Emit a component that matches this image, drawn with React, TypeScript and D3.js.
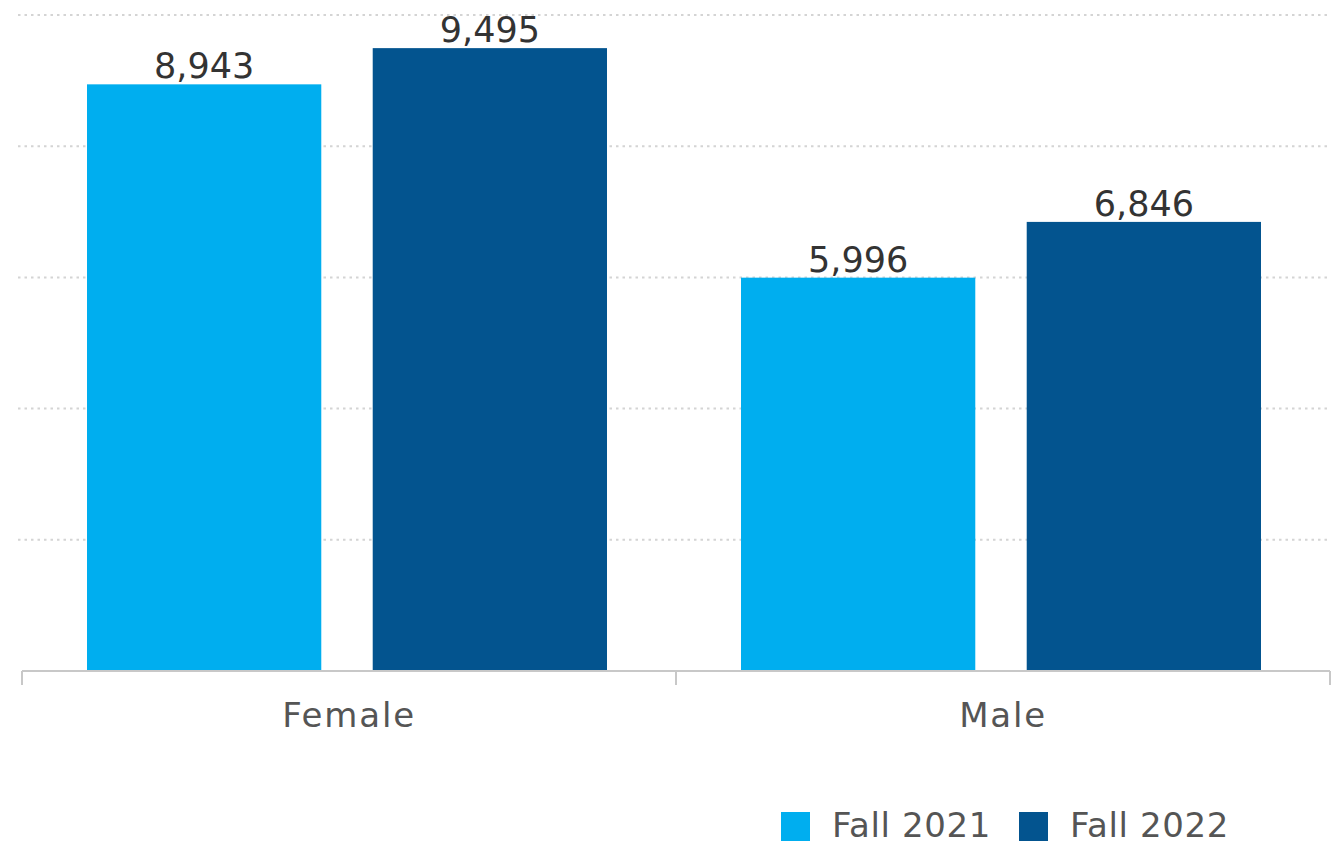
import React from "react";
import * as d3 from "d3";

const categories = ["Female", "Male"];
const seriesNames = ["Fall 2021", "Fall 2022"];
const fall2021 = [8943, 5996];
const fall2022 = [9495, 6846];
const yTicks = [0, 2000, 4000, 6000, 8000, 10000];
const colors = ["#00AEEF", "#03548F"];

const W = 1332;
const H = 847;
const left = 22;
const right = 1330;
const top = 15;
const bottom = 671;

export default function App() {
  const x0 = d3.scaleBand<string>().domain(categories).range([left, right]).paddingInner(0).paddingOuter(0);
  const x1 = d3.scaleBand<string>().domain(seriesNames).range([65, 585]).paddingInner(0.18);
  const y = d3.scaleLinear().domain([0, 10000]).range([bottom, top]);
  const fmt = d3.format(",");
  const series = [fall2021, fall2022];
  const font = "'DejaVu Sans', Verdana, sans-serif";

  return (
    <svg width={W} height={H} style={{ position: "absolute", left: 0, top: 0, background: "#fff" }}>
      {yTicks.slice(1).map((t) => (
        <line key={t} x1={left - 4} x2={right} y1={y(t)} y2={y(t)} stroke="#d4d4d4" strokeWidth={2} strokeDasharray="2.5,4" />
      ))}
      {categories.map((c, ci) => (
        <g key={c} transform={`translate(${x0(c)},0)`}>
          {seriesNames.map((s, si) => {
            const v = series[si][ci];
            const bx = x1(s)!;
            return (
              <g key={s}>
                <rect x={bx} y={y(v)} width={x1.bandwidth()} height={bottom - y(v)} fill={colors[si]} />
                <text x={bx + x1.bandwidth() / 2} y={y(v) - 6} textAnchor="middle" fontFamily={font} fontSize={35} fill="#333">
                  {fmt(v)}
                </text>
              </g>
            );
          })}
          <text x={x0.bandwidth() / 2} y={727} textAnchor="middle" fontFamily={font} fontSize={34} fill="#555" letterSpacing={1.8}>
            {c}
          </text>
        </g>
      ))}
      <line x1={left} x2={right} y1={bottom} y2={bottom} stroke="#c8c8c8" strokeWidth={2} />
      {[left, left + x0.bandwidth(), right].map((tx, i) => (
        <line key={i} x1={tx} x2={tx} y1={bottom} y2={bottom + 14} stroke="#c8c8c8" strokeWidth={2} />
      ))}
      {seriesNames.map((s, i) => {
        const lx = i === 0 ? 781 : 1019;
        return (
          <g key={s}>
            <rect x={lx} y={812} width={29} height={29} fill={colors[i]} />
            <text x={lx + 51} y={837} fontFamily={font} fontSize={34} fill="#555" letterSpacing={0.6}>
              {s}
            </text>
          </g>
        );
      })}
    </svg>
  );
}
